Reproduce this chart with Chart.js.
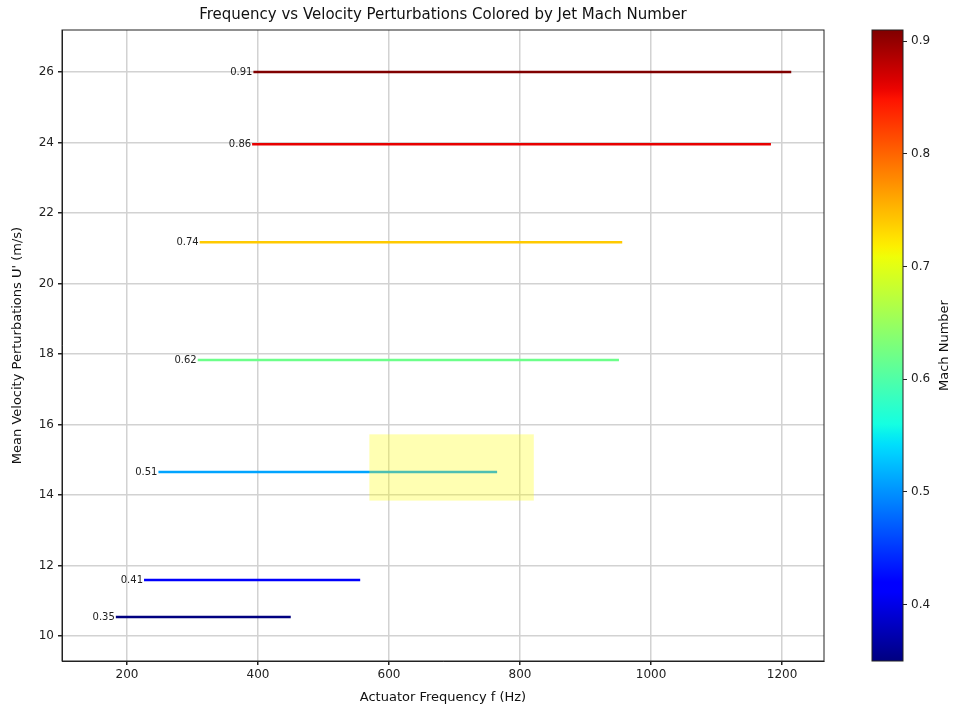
<!DOCTYPE html>
<html>
<head>
<meta charset="utf-8">
<script src="https://cdn.jsdelivr.net/npm/chart.js@4"></script>
<style>
  body { margin: 0; background: #fff; }
  #wrap { position: relative; width: 954px; height: 709px; }
  #mainChart { position: absolute; left: 0; top: 0; }
  #barChart { position: absolute; left: 840px; top: 0; }
</style>
</head>
<body>
<div id="wrap">
  <canvas id="mainChart" width="835" height="709"></canvas>
  <canvas id="barChart" width="114" height="709"></canvas>
</div>
<script>
// data
const mach = [0.35, 0.41, 0.51, 0.62, 0.74, 0.86, 0.91];
const meanU = [10.54, 11.59, 14.65, 17.83, 21.17, 23.95, 26.0];
const freqStart = [183, 226, 248, 308, 311, 391, 393];
const freqEnd = [450, 556, 765, 951, 956, 1183, 1214];
const xTicks = [200, 400, 600, 800, 1000, 1200];
const yTicks = [10, 12, 14, 16, 18, 20, 22, 24, 26];
const cbTicks = [0.4, 0.5, 0.6, 0.7, 0.8, 0.9];
const highlight = { x0: 570, x1: 821, y0: 13.84, y1: 15.72 };

const machMin = Math.min(...mach), machMax = Math.max(...mach);
const FONT = "DejaVu Sans";
const GRID = "#d2d2d2";

// matplotlib "jet"
function interp(pts, t) {
  for (let i = 1; i < pts.length; i++) {
    if (t <= pts[i][0]) {
      const [x0, y0] = pts[i - 1], [x1, y1] = pts[i];
      return y0 + (y1 - y0) * (t - x0) / (x1 - x0);
    }
  }
  return pts[pts.length - 1][1];
}
function jet(t) {
  t = Math.max(0, Math.min(1, t));
  const r = interp([[0, 0], [0.35, 0], [0.66, 1], [0.89, 1], [1, 0.5]], t);
  const g = interp([[0, 0], [0.125, 0], [0.375, 1], [0.64, 1], [0.91, 0], [1, 0]], t);
  const b = interp([[0, 0.5], [0.11, 1], [0.34, 1], [0.65, 0], [1, 0]], t);
  return `rgb(${Math.round(r * 255)},${Math.round(g * 255)},${Math.round(b * 255)})`;
}
const machColor = m => jet((m - machMin) / (machMax - machMin));

const datasets = mach.map((m, i) => ({
  label: String(m),
  data: [{ x: freqStart[i], y: meanU[i] }, { x: freqEnd[i], y: meanU[i] }],
  borderColor: machColor(m),
  borderWidth: 2.5,
  pointRadius: 0,
  borderCapStyle: "butt"
}));

const extras = {
  id: "extras",
  afterDatasetsDraw(chart) {
    const { ctx, chartArea: a, scales: { x, y } } = chart;
    ctx.save();
    // highlight box, on top of lines
    ctx.fillStyle = "rgba(255,255,0,0.3)";
    const px0 = x.getPixelForValue(highlight.x0), px1 = x.getPixelForValue(highlight.x1);
    const py0 = y.getPixelForValue(highlight.y1), py1 = y.getPixelForValue(highlight.y0);
    ctx.fillRect(px0, py0, px1 - px0, py1 - py0);
    // mach labels
    ctx.fillStyle = "#222";
    ctx.font = `10px "${FONT}"`;
    ctx.textAlign = "right";
    ctx.textBaseline = "middle";
    mach.forEach((m, i) => {
      ctx.fillText(m.toFixed(2), x.getPixelForValue(freqStart[i]) - 1, y.getPixelForValue(meanU[i]));
    });
    // frame
    ctx.strokeStyle = "#222";
    ctx.lineWidth = 1;
    ctx.strokeRect(a.left, a.top, a.right - a.left, a.bottom - a.top);
    // title
    ctx.font = `15px "${FONT}"`;
    ctx.textAlign = "center";
    ctx.fillStyle = "#111";
    ctx.fillText("Frequency vs Velocity Perturbations Colored by Jet Mach Number", (a.left + a.right) / 2, 15);
    ctx.restore();
  }
};

new Chart(document.getElementById("mainChart"), {
  type: "line",
  data: { datasets },
  options: {
    responsive: false,
    animation: false,
    devicePixelRatio: 1,
    layout: { padding: { top: 30, right: 11, left: 0, bottom: 0 } },
    plugins: { legend: { display: false }, tooltip: { enabled: false }, title: { display: false } },
    scales: {
      x: {
        type: "linear",
        min: 100.8, max: 1264,
        afterBuildTicks: s => { s.ticks = xTicks.map(v => ({ value: v })); },
        afterFit: s => { s.height = 48; },
        grid: { color: GRID, lineWidth: 1.5, tickLength: 4, tickColor: "#222" },
        border: { color: "#222" },
        ticks: { color: "#222", font: { family: FONT, size: 12 }, padding: 3, maxRotation: 0, callback: v => String(v) },
        title: { display: true, text: "Actuator Frequency f (Hz)", color: "#111", font: { family: FONT, size: 13 }, padding: 4 }
      },
      y: {
        type: "linear",
        min: 9.29, max: 27.19,
        afterBuildTicks: s => { s.ticks = yTicks.map(v => ({ value: v })); },
        afterFit: s => { s.width = 62; },
        grid: { color: GRID, lineWidth: 1.5, tickLength: 4, tickColor: "#222" },
        border: { color: "#222" },
        ticks: { color: "#222", font: { family: FONT, size: 12 }, padding: 4, callback: v => String(v) },
        title: { display: true, text: "Mean Velocity Perturbations U' (m/s)", color: "#111", font: { family: FONT, size: 13 }, padding: 10 }
      }
    }
  },
  plugins: [extras]
});

// colorbar
const gradientFill = {
  id: "gradientFill",
  beforeDatasetsDraw(chart) {
    const { ctx, chartArea: a, scales: { y } } = chart;
    ctx.save();
    const g = ctx.createLinearGradient(0, y.getPixelForValue(machMin), 0, y.getPixelForValue(machMax));
    for (let i = 0; i <= 64; i++) g.addColorStop(i / 64, jet(i / 64));
    ctx.fillStyle = g;
    ctx.fillRect(a.left, a.top, a.right - a.left, a.bottom - a.top);
    ctx.strokeStyle = "#222";
    ctx.lineWidth = 1;
    ctx.strokeRect(a.left, a.top, a.right - a.left, a.bottom - a.top);
    ctx.translate(a.right + 42, (a.top + a.bottom) / 2);
    ctx.rotate(-Math.PI / 2);
    ctx.font = `13px "${FONT}"`;
    ctx.fillStyle = "#111";
    ctx.textAlign = "center";
    ctx.textBaseline = "middle";
    ctx.fillText("Mach Number", 0, 0);
    ctx.restore();
  }
};

new Chart(document.getElementById("barChart"), {
  type: "scatter",
  data: { datasets: [{ data: [] }] },
  options: {
    responsive: false,
    animation: false,
    devicePixelRatio: 1,
    layout: { padding: { top: 30, bottom: 48, left: 32, right: 0 } },
    plugins: { legend: { display: false }, tooltip: { enabled: false } },
    scales: {
      x: { display: false, min: 0, max: 1 },
      y: {
        position: "right",
        min: machMin, max: machMax,
        afterBuildTicks: s => { s.ticks = cbTicks.map(v => ({ value: v })); },
        afterFit: s => { s.width = 51; },
        grid: { display: true, drawOnChartArea: false, tickLength: 4, tickColor: "#222" },
        border: { display: false },
        ticks: { color: "#222", font: { family: FONT, size: 12 }, padding: 4, callback: v => v.toFixed(1) }
      }
    }
  },
  plugins: [gradientFill]
});
</script>
</body>
</html>
